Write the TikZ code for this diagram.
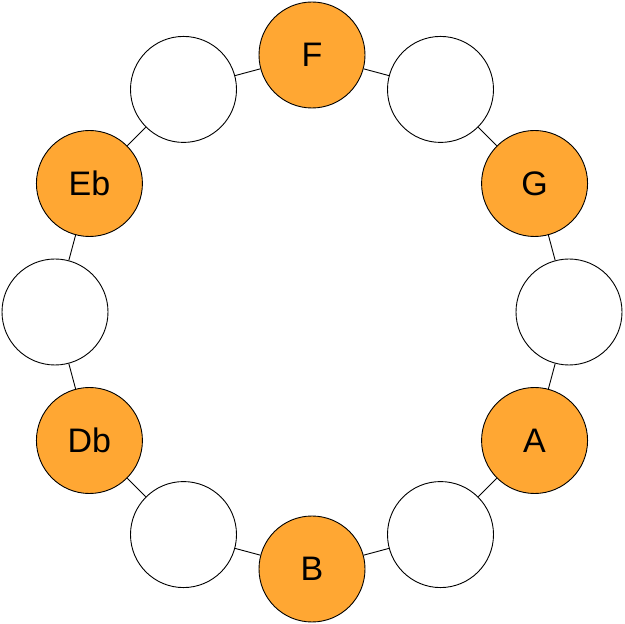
\documentclass[tikz,border=0pt]{standalone}
\usepackage{fontspec}
\setmainfont{Liberation Sans}
\definecolor{notec}{HTML}{FFA733}
\begin{document}
\begin{tikzpicture}[x=1pt,y=1pt,
  note/.style={circle,draw=black,line width=0.9pt,minimum size=106pt,inner sep=0pt,font=\fontsize{34}{34}\selectfont},
  on/.style={note,fill=notec},
  off/.style={note,fill=white}]
\useasboundingbox (0,0) rectangle (624,624);
\def\labs{{"F","","G","","A","","B","","Db","","Eb",""}}
\foreach \i in {0,...,11}{
  \pgfmathsetmacro{\ang}{90-30*\i}
  \pgfmathparse{mod(\i,2)==0?1:0}
  \ifnum\pgfmathresult=1
    \pgfmathsetmacro{\t}{\labs[\i]}
    \node[on] (n\i) at ({312+257*cos(\ang)},{312+257*sin(\ang)}) {\t};
  \else
    \node[off] (n\i) at ({312+257*cos(\ang)},{312+257*sin(\ang)}) {};
  \fi
}
\foreach \i in {0,...,11}{
  \pgfmathtruncatemacro{\j}{mod(\i+1,12)}
  \draw[line width=0.9pt] (n\i) -- (n\j);
}
\end{tikzpicture}
\end{document}
